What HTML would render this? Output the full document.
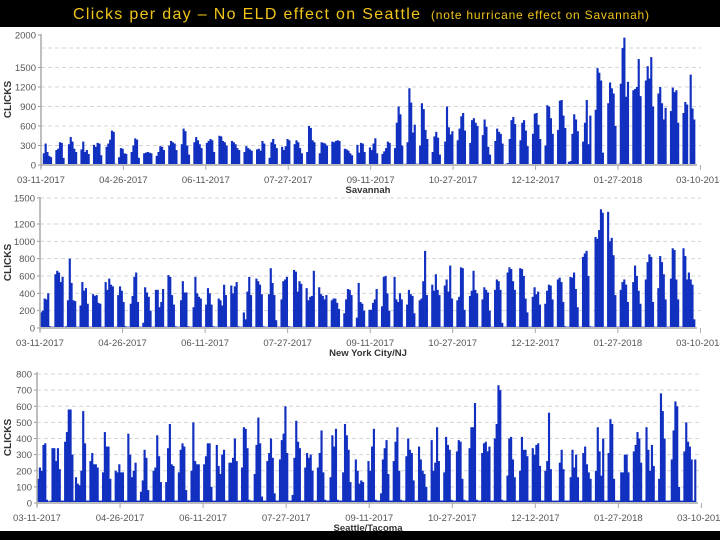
<!DOCTYPE html>
<html><head><meta charset="utf-8"><style>
html,body{margin:0;padding:0;background:#000;}
svg{display:block;font-family:"Liberation Sans",sans-serif;}
</style></head><body>
<svg id="chart" width="720" height="540" viewBox="0 0 720 540">
<rect x="0" y="0" width="720" height="540" fill="#000"/>
<text x="73" y="19" fill="#f0c419" font-size="16" textLength="347">Clicks per day – No ELD effect on Seattle</text>
<text x="431" y="19" fill="#f0c419" font-size="12" textLength="218">(note hurricane effect on Savannah)</text>
<rect x="0" y="27" width="720" height="504" fill="#fff"/>
<g id="panels"></g>
<rect x="0" y="531" width="720" height="9" fill="#000"/>
</svg>
<script>
const dateLabels = ["03-11-2017","04-26-2017","06-11-2017","07-27-2017","09-11-2017","10-27-2017","12-12-2017","01-27-2018","03-10-2018"];
const savannahGrid = [300,600,900,1200,1500,1800];
const savannahLabels = [0,300,600,900,1200,1500,2000];
const nyGrid = [200,400,600,800,1000,1200,1500];
const nyLabels = [0,200,400,600,800,1000,1200,1500];
const seattleGrid = [100,200,300,400,500,600,700,800];
const seattleLabels = [0,100,200,300,400,500,600,700,800];
const savannahClicks = [
10,180,330,200,140,120,15, 10,230,250,350,340,110,15, 10,320,430,360,250,200,15, 10,240,360,200,230,170,15,
10,310,280,340,330,150,15, 10,280,330,390,530,510,20, 10,120,260,250,180,170,15, 10,200,300,410,390,110,15,
10,180,190,200,190,180,15, 10,140,200,290,280,230,15, 10,300,370,350,330,230,15, 10,320,560,520,300,160,15,
10,350,430,380,320,260,15, 10,340,370,400,380,200,15, 10,450,440,370,350,300,15, 10,370,350,320,260,230,15,
10,200,290,260,240,220,15, 10,240,250,220,370,330,15, 10,110,350,400,320,260,15, 10,280,230,290,400,380,15,
10,320,380,350,260,180,15, 10,200,600,570,380,350,15, 10,180,350,340,330,300,15, 10,360,350,370,380,370,15,
10,250,240,220,180,150,15, 10,310,190,340,330,200,15, 10,270,230,330,410,180,15, 10,170,210,260,360,340,15,
10,260,650,900,780,300,15, 20,350,1180,960,500,620,20, 20,300,950,860,540,400,20, 10,200,440,510,420,160,15,
10,360,900,580,470,520,15, 10,380,560,750,800,530,15, 10,340,690,720,650,600,15, 10,460,700,590,280,160,15,
10,370,560,510,480,330,15, 20,30,400,690,740,630,15, 10,380,650,690,530,290,15, 10,480,790,800,620,400,15,
10,300,920,900,720,480,15, 10,540,990,1000,760,570,15, 50,60,480,780,700,520,15, 10,360,650,1000,320,760,15,
10,850,1490,1420,1300,190,15, 10,950,1270,1180,1100,600,15, 20,1250,1800,1960,1050,1280,20, 15,1150,1170,1200,1630,1060,15,
15,1300,1520,1330,1660,900,15, 15,1100,1200,950,700,880,15, 15,830,1190,1120,1150,650,15, 15,800,970,930,15,1390,870,
700];
const nyClicks = [
180,200,340,330,400,20,15, 15,620,660,640,530,590,15, 20,320,800,520,320,310,15, 15,260,530,430,460,280,15,
15,390,370,380,290,280,15, 15,530,440,570,500,480,15, 15,380,480,430,300,20,15, 15,280,370,590,640,300,15,
15,60,470,410,360,200,15, 15,440,440,240,300,450,15, 15,610,590,380,270,20,15, 15,320,540,410,410,20,15,
15,240,590,400,360,340,15, 15,270,460,400,270,20,15, 15,340,320,260,500,380,15, 15,490,400,480,530,20,15,
15,180,100,420,590,380,15, 15,570,540,500,390,20,15, 15,390,690,520,380,90,15, 15,330,540,560,590,20,15,
15,670,650,420,540,510,15, 15,460,320,360,370,660,15, 15,470,390,370,330,380,15, 15,320,340,340,290,220,15,
15,170,330,450,440,380,15, 15,120,520,300,280,200,15, 15,210,210,290,330,450,15, 15,250,590,600,400,200,15,
15,590,330,300,400,330,15, 15,270,440,390,370,170,15, 15,320,340,540,890,380,15, 15,500,430,620,440,380,15,
15,490,560,420,720,340,15, 15,320,360,700,690,210,15, 15,370,430,660,440,400,15, 15,330,470,440,410,200,15,
15,440,560,540,440,60,15, 15,640,700,680,540,440,15, 15,690,680,600,340,180,15, 15,360,470,390,420,270,15,
15,280,430,500,490,330,15, 15,560,580,530,300,20,15, 15,590,580,640,450,240,15, 15,820,860,890,600,20,15,
15,1050,1030,1130,1370,1330,15, 15,1340,1000,1040,840,380,15, 15,440,530,560,500,300,15, 15,530,720,600,430,280,15,
15,560,760,850,820,300,15, 15,460,830,760,620,330,15, 15,570,920,900,560,330,15, 15,920,830,560,640,560,500,
100];
const seattleClicks = [
150,220,200,360,370,20,10, 15,340,340,260,340,210,15, 15,380,440,580,580,300,15, 160,120,110,200,570,370,15,
15,260,310,240,240,220,15, 15,190,440,350,350,150,15, 15,200,190,240,190,190,15, 15,430,300,160,200,250,15,
15,70,140,330,280,80,15, 15,200,220,420,290,130,15, 15,130,340,490,240,230,15, 15,190,330,370,350,80,15,
15,200,500,260,240,240,15, 15,240,290,370,370,100,15, 15,360,230,180,300,330,15, 15,250,250,280,400,260,15,
15,220,470,460,340,20,15, 15,180,360,530,370,40,15, 15,260,310,400,280,60,15, 15,270,390,430,600,310,15,
15,50,280,510,380,340,15, 15,220,310,280,300,200,15, 15,220,310,450,190,20,15, 15,160,420,350,460,20,15,
15,190,490,420,330,130,15, 15,270,200,120,140,130,15, 15,260,200,350,460,20,15, 15,60,270,340,390,180,15,
15,260,380,470,200,20,15, 15,290,400,330,310,140,15, 15,350,270,200,180,100,15, 15,390,200,250,470,260,15,
15,190,410,360,330,20,15, 15,320,390,380,150,20,15, 15,340,470,470,620,20,15, 15,310,370,380,320,350,15,
15,400,490,730,700,20,15, 15,170,400,410,270,160,15, 15,200,410,330,330,290,15, 15,340,300,360,370,230,15,
15,200,260,560,210,15,15, 15,15,250,330,210,15,15, 15,160,330,220,300,160,15, 15,310,350,240,190,150,15,
15,200,470,320,170,400,15, 15,310,520,490,150,15,15, 15,190,190,300,300,190,15, 15,320,360,440,400,250,15,
15,470,330,200,360,230,15, 15,150,680,570,400,15,15, 15,270,450,630,600,100,15, 15,320,500,380,350,270,15,
270];

const NS = "http://www.w3.org/2000/svg";
const root = document.getElementById("panels");
function mk(tag, attrs, parent){
  const e = document.createElementNS(NS, tag);
  for (const k in attrs) e.setAttribute(k, attrs[k]);
  (parent||root).appendChild(e);
  return e;
}
function drawPanel(cfg){
  const g = mk("g", {});
  
  
  const n = cfg.values.length;
  const dx = (cfg.x1 - cfg.x0) / n;
  const xScale = i => cfg.x0 + i * dx;
  const yScale = v => cfg.y0 - v * cfg.k;
  cfg.grid.forEach(v => {
    const l = mk("line", {x1:cfg.x0, x2:cfg.x1+6, y1:yScale(v), y2:yScale(v), stroke:"#d4d4d4", "stroke-dasharray":"4,3", "stroke-width":1}, g);
    
    
  });
  cfg.labels.forEach(v => {
    const t = mk("text", {x:cfg.x0-5, y:yScale(v)+3.5, "font-size":9.5, fill:"#555", "text-anchor":"end"}, g);
    t.textContent = v;
    
    
    const tk = mk("line", {x1:cfg.x0-3, x2:cfg.x0, y1:yScale(v), y2:yScale(v), stroke:"#999"}, g);
    
    
  });
  cfg.values.forEach((v, i) => {
    const b = mk("rect", {x:xScale(i), y:yScale(v), width:dx+0.35, height:Math.max(0, v*cfg.k), fill:"#1230c0"}, g);
    
    
  });
  const ya = mk("line", {x1:cfg.x0, x2:cfg.x0, y1:cfg.yTop, y2:cfg.y0+3, stroke:"#aaa", "stroke-width":1.5}, g);
  
  
  const xa = mk("line", {x1:cfg.x0, x2:cfg.x1+2, y1:cfg.y0, y2:cfg.y0, stroke:"#bbb", "stroke-width":2}, g);
  
  
  dateLabels.forEach((d, k) => {
    const x = xScale(k * 46 * n / 365);
    const tk = mk("line", {x1:x, x2:x, y1:cfg.y0, y2:cfg.y0+5, stroke:"#aaa"}, g);
    
    
    const t = mk("text", {x:x, y:cfg.y0+18, "font-size":9.5, fill:"#555", "text-anchor":"middle"}, g);
    t.textContent = d;
    
    
  });
  const xt = mk("text", {x:368, y:cfg.y0+28, "font-size":9.5, "font-weight":"bold", fill:"#333", "text-anchor":"middle"}, g);
  xt.textContent = cfg.title;
  
  
  const cy = (cfg.yTop + cfg.y0) / 2;
  const yt = mk("text", {x:0, y:0, "font-size":10, "font-weight":"bold", fill:"#333", "text-anchor":"middle", transform:"translate(11," + cy + ") rotate(-90)"}, g);
  yt.textContent = "CLICKS";
  
  
}
drawPanel({name:"savannah", values:savannahClicks, grid:savannahGrid, labels:savannahLabels, x0:41, x1:695, y0:165, k:130/2000, yTop:34, title:"Savannah"});
drawPanel({name:"new-york", values:nyClicks, grid:nyGrid, labels:nyLabels, x0:40, x1:695, y0:328, k:104/1200, yTop:197, title:"New York City/NJ"});
drawPanel({name:"seattle", values:seattleClicks, grid:seattleGrid, labels:seattleLabels, x0:37, x1:696, y0:503, k:129/800, yTop:372, title:"Seattle/Tacoma"});
</script>
</body></html>
